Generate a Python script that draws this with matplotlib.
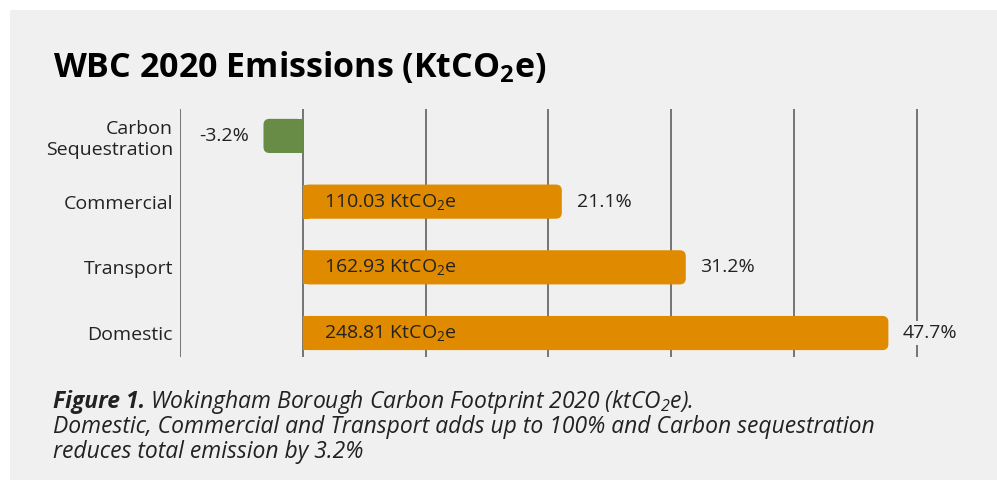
import matplotlib.pyplot as plt
from matplotlib.patches import FancyBboxPatch, Rectangle

plt.rcParams['font.family'] = ['Open Sans', 'DejaVu Sans']
plt.rcParams['mathtext.default'] = 'regular'

# --- data ---
categories = ['Carbon\nSequestration', 'Commercial', 'Transport', 'Domestic']
shares = [-3.2, 21.1, 31.2, 47.7]          # percent of total
emissions = [None, 110.03, 162.93, 248.81]  # KtCO2e
grid_ticks = [-10, 0, 10, 20, 30, 40, 50]

ORANGE = '#E08A00'
GREEN = '#688C46'
PANEL = '#F0F0F0'
TEXT = '#222222'

fig = plt.figure(figsize=(9.97, 4.8), dpi=100, facecolor='white')
W, H = 997, 480

# light grey card behind everything
fig.patches.append(Rectangle((10 / W, 0), 1, 1 - 10 / H, transform=fig.transFigure,
                             facecolor=PANEL, edgecolor='none', zorder=-5))

ax = fig.add_axes([180 / W, 1 - 357 / H, (978 - 180) / W, (357 - 109) / H])
ax.set_zorder(2)
ax.set_facecolor('none')
ax.set_xlim(-10, 55)
ax.set_ylim(3.365, -0.41)
for s in ax.spines.values():
    s.set_visible(False)
ax.set_xticks([])
ax.set_yticks(range(len(categories)))
ax.set_yticklabels(categories, fontsize=14, color=TEXT, ha='right', linespacing=1.2)
ax.tick_params(axis='y', length=0, pad=5)

for t in grid_ticks:
    ax.axvline(t, color='#6b6b6b', lw=1.3, zorder=1)

colors = [GREEN if v < 0 else ORANGE for v in shares]
bars = ax.barh(range(len(categories)), shares, height=0.52, color=colors)

# rounded ends on the outer side only
px_x = (978 - 180) / 65      # pixels per x unit
px_y = (357 - 109) / 3.775   # pixels per y unit
r = 6 / px_x
for b, c in zip(bars, colors):
    b.set_visible(False)
    x, y0, w, h = b.get_x(), b.get_y(), b.get_width(), b.get_height()
    x0, x1 = min(x, x + w), max(x, x + w)
    ax.add_patch(FancyBboxPatch((x0, y0), x1 - x0, h,
                                boxstyle=f'round,pad=0,rounding_size={r}',
                                mutation_aspect=px_x / px_y,
                                facecolor=c, edgecolor='none', zorder=2))
    # square off the end sitting on zero
    if w >= 0:
        ax.add_patch(Rectangle((0, y0), 1.05 * r, h, facecolor=c, edgecolor='none', zorder=2))
    else:
        ax.add_patch(Rectangle((-1.05 * r, y0), 1.05 * r, h, facecolor=c, edgecolor='none', zorder=2))

for i, (v, e) in enumerate(zip(shares, emissions)):
    if v >= 0:
        ax.text(v + 1.2, i, f'{v}%', ha='left', va='center', fontsize=14, color=TEXT,
                zorder=3, bbox=dict(facecolor=PANEL, edgecolor='none', pad=2))
    else:
        ax.text(v - 1.2, i, f'{v}%', ha='right', va='center', fontsize=14, color=TEXT,
                zorder=3, bbox=dict(facecolor=PANEL, edgecolor='none', pad=2))
    if e is not None:
        ax.text(1.7, i, f'{e:.2f} KtCO$_2$e', ha='left', va='center', fontsize=14,
                color=TEXT, zorder=3)

fig.text(53 / W, 1 - 77 / H, 'WBC 2020 Emissions (KtCO$_2$e)', fontsize=24.5,
         fontweight='bold', color='black', va='baseline', ha='left')

# caption
cap_size = 16.5
lab = fig.text(53 / W, 1 - 408 / H, 'Figure 1.', fontsize=cap_size, fontweight='bold',
               style='italic', color=TEXT, va='baseline', ha='left')
fig.canvas.draw()
bb = lab.get_window_extent(fig.canvas.get_renderer())
fig.text(bb.x1 / W + 5 / W, 1 - 408 / H, 'Wokingham Borough Carbon Footprint 2020 (ktCO$_2$e).',
         fontsize=cap_size, style='italic', color=TEXT, va='baseline', ha='left')
fig.text(53 / W, 1 - 433 / H,
         'Domestic, Commercial and Transport adds up to 100% and Carbon sequestration',
         fontsize=cap_size, style='italic', color=TEXT, va='baseline', ha='left')
fig.text(53 / W, 1 - 458 / H, 'reduces total emission by 3.2%',
         fontsize=cap_size, style='italic', color=TEXT, va='baseline', ha='left')

fig.savefig('out.png', dpi=100, facecolor='white')
